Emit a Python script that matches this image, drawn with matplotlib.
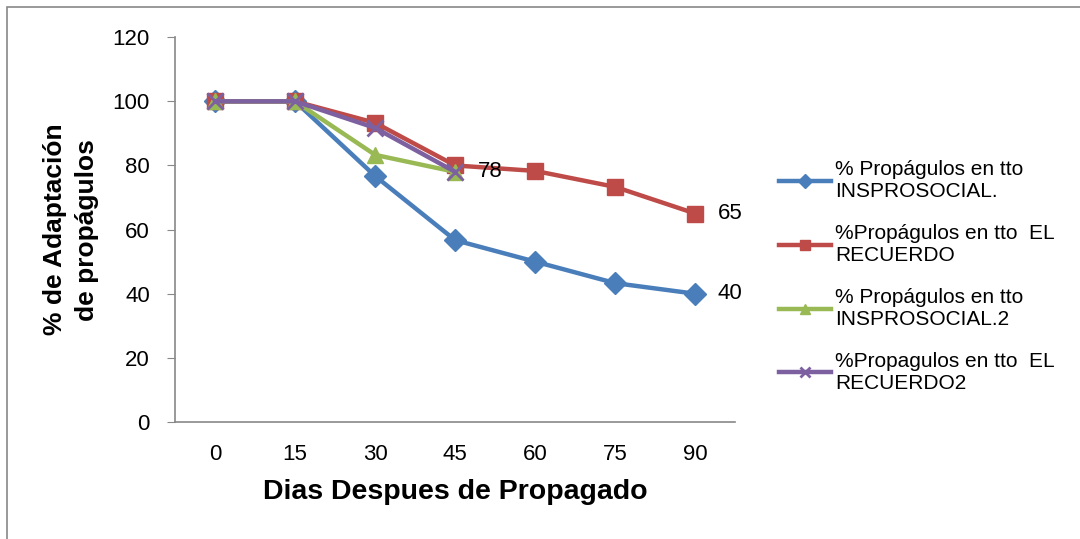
import matplotlib.pyplot as plt
from matplotlib.patches import Rectangle

dias = ['0', '15', '30', '45', '60', '75', '90']
insprosocial = [100, 100, 76.7, 56.7, 50, 43.3, 40]
recuerdo = [100, 100, 93.3, 80, 78.3, 73.3, 65]
insprosocial2 = [100, 100, 83.3, 78]
recuerdo2 = [100, 100, 91.7, 78]

labels = ['% Propágulos en tto\nINSPROSOCIAL.',
          '%Propágulos en tto  EL\nRECUERDO',
          '% Propágulos en tto\nINSPROSOCIAL.2',
          '%Propagulos en tto  EL\nRECUERDO2']

plt.rcParams['font.family'] = ['Liberation Sans', 'DejaVu Sans']

fig = plt.figure(figsize=(10.8, 5.39), dpi=100)
ax = fig.add_axes([0.162, 0.217, 0.519, 0.714])

fig.patches.append(Rectangle((7 / 1080, -0.1), 1.2, 1 - 7 / 539 + 0.1,
                             transform=fig.transFigure, fill=False,
                             edgecolor='#888888', linewidth=1.2))

x = list(range(len(dias)))
ax.plot(x, insprosocial, color='#4A7EBB', lw=3.2, marker='D', ms=11, label=labels[0])
ax.plot(x, recuerdo, color='#BE4B48', lw=3.2, marker='s', ms=12, label=labels[1])
ax.plot(x[:4], insprosocial2, color='#98B954', lw=3.2, marker='^', ms=12, label=labels[2])
ax.plot(x[:4], recuerdo2, color='#7D60A0', lw=3.2, marker='x', ms=11, mew=2, label=labels[3])

for xi, yi, txt in [(3, recuerdo2[3], '78'), (6, recuerdo[6], '65'),
                    (6, insprosocial[6], '40')]:
    ax.annotate(txt, (xi, yi), xytext=(16, 0), textcoords='offset points',
                va='center', fontsize=16)

ax.set_xlim(-0.5, 6.5)
ax.set_ylim(0, 120)
ax.set_yticks(range(0, 121, 20))
ax.set_xticks(x)
ax.set_xticklabels(dias)
ax.tick_params(axis='x', length=0, pad=16, labelsize=16)
ax.tick_params(axis='y', length=6, color='#888888', pad=12, labelsize=16)
for s in ['top', 'right']:
    ax.spines[s].set_visible(False)
for s in ['left', 'bottom']:
    ax.spines[s].set_color('#888888')
    ax.spines[s].set_linewidth(1.2)

ax.set_xlabel('Dias Despues de Propagado', fontsize=20.5, fontweight='bold', labelpad=10)
ax.set_ylabel('% de Adaptación\nde propágulos', fontsize=19, fontweight='bold',
              labelpad=10, linespacing=1.4)

fig.legend(loc='center left', bbox_to_anchor=(0.704, 0.487), frameon=False,
           fontsize=15, handlelength=2.5, handletextpad=0.2, labelspacing=1.09,
           markerscale=0.65)

fig.savefig('out.png', dpi=100)
